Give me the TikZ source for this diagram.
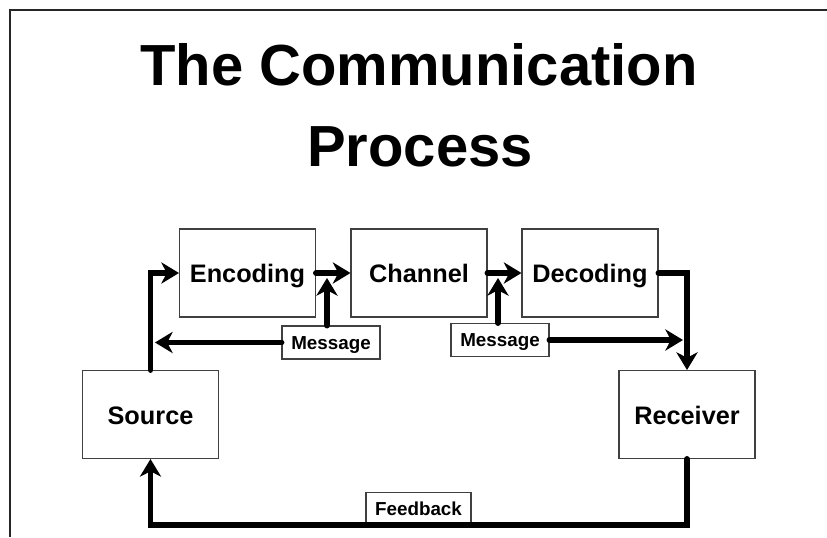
\documentclass[tikz,border=0pt]{standalone}
\usepackage{fontspec}
\setmainfont{Liberation Sans}
\usetikzlibrary{arrows.meta}
\tikzstyle{stage}=[draw=black!75, line width=0.6pt, minimum width=2.72cm, minimum height=1.76cm, inner sep=0, text height=11.3pt, text depth=0pt, font=\fontsize{14.4}{16}\selectfont\bfseries]
\tikzstyle{tag}=[draw=black!75, fill=white, line width=0.6pt, minimum width=1.96cm, minimum height=0.66cm, inner sep=0, text height=7.7pt, text depth=0pt, font=\fontsize{10.7}{12}\selectfont\bfseries]
\tikzstyle{flow}=[line width=3.4pt, line cap=round, -{Stealth[length=10pt, width=12pt, inset=3pt]}]
\tikzstyle{heading}=[anchor=base, inner sep=0, font=\fontsize{33}{40}\selectfont\bfseries]

\begin{document}
\begin{tikzpicture}[x=0.02cm, y=-0.02cm]
      \useasboundingbox (0, 0) rectangle (827, 537);
      \draw[line width=1.2pt, black!85] (10, 537) -- (10, 10) -- (827, 10);

      \node[heading] (title_a) at (419, 86) {The Communication};
      \node[heading] (title_b) at (420, 166.7) {Process};

      \node[stage] (enc) at (247.5, 273) {Encoding};
      \node[stage] (chan) at (419, 273) {Channel};
      \node[stage] (dec) at (590, 273) {Decoding};
      \node[stage] (src) at (150.5, 414.5) {Source};
      \node[stage] (rcv) at (687, 414.5) {Receiver};

      \node[tag] (msg_a) at (331, 342.5) {Message};
      \node[tag] (msg_b) at (500, 340) {Message};
      \node[tag, minimum width=2.1cm, minimum height=0.64cm] (fb) at (418.5, 508.5) {Feedback};

      \coordinate (tip_a) at (327, 278);
      \coordinate (tip_b) at (498, 278);
      \coordinate (back_a) at (155, 342.5);
      \coordinate (fwd_b) at (683, 340);

      \draw[flow] (src.north) |- (enc.west);
      \draw[flow] (enc.east) -- (chan.west);
      \draw[flow] (chan.east) -- (dec.west);
      \draw[flow] (dec.east) -| (rcv.north);

      \draw[flow] (msg_a.north -| tip_a) -- (tip_a);
      \draw[flow] (msg_a.west) -- (back_a);
      \draw[flow] (msg_b.north -| tip_b) -- (tip_b);
      \draw[flow] (msg_b.east) -- (fwd_b);

      \draw[flow] (rcv.south) |- (fb.south) -| (src.south);
    \end{tikzpicture}
\end{document}
